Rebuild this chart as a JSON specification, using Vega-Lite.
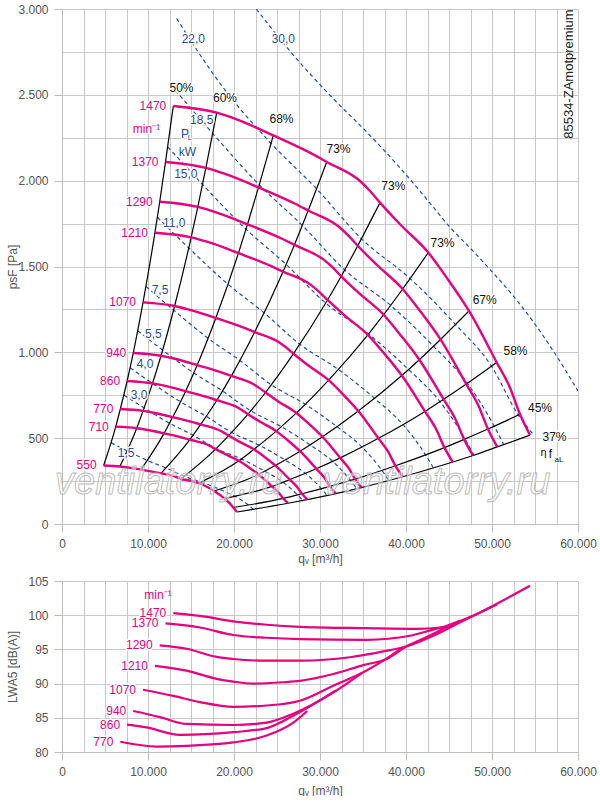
{
  "$schema": "https://vega.github.io/schema/vega-lite/v6.json",
  "background": "white",
  "padding": {"left": 6, "top": 3, "right": 0, "bottom": 0},
  "spacing": 11,
  "config": {
    "view": {"stroke": null},
    "font": "Liberation Sans",
    "axis": {
      "labelFont": "Liberation Sans", "titleFont": "Liberation Sans",
      "labelFontSize": 12, "titleFontSize": 12, "titleFontWeight": "normal",
      "labelColor": "#555555", "titleColor": "#555555",
      "gridColor": "#c8c8c8", "gridWidth": 1,
      "domainColor": "#bdbdbd", "tickColor": "#bdbdbd",
      "tickSize": 8, "labelPadding": 6,
      "labelFlush": false, "labelOverlap": false
    }
  },
  "datasets": {
    "fan": [
      {"n":1470,"i":0,"q":12942,"p":2435},{"n":1470,"i":1,"q":17989,"p":2396},{"n":1470,"i":2,"q":20314,"p":2357},{"n":1470,"i":3,"q":24570,"p":2264},{"n":1470,"i":4,"q":29222,"p":2153},{"n":1470,"i":5,"q":30779,"p":2109},{"n":1470,"i":6,"q":34651,"p":1998},{"n":1470,"i":7,"q":35814,"p":1940},{"n":1470,"i":8,"q":36977,"p":1872},{"n":1470,"i":9,"q":39303,"p":1746},{"n":1470,"i":10,"q":42594,"p":1581},{"n":1470,"i":11,"q":44733,"p":1435},{"n":1470,"i":12,"q":47326,"p":1241},{"n":1470,"i":13,"q":50546,"p":941},{"n":1470,"i":14,"q":52093,"p":794},{"n":1470,"i":15,"q":53256,"p":639},{"n":1470,"i":16,"q":54419,"p":518},
      {"n":1370,"i":0,"q":12036,"p":2109},{"n":1370,"i":1,"q":16730,"p":2075},{"n":1370,"i":2,"q":18892,"p":2041},{"n":1370,"i":3,"q":22850,"p":1961},{"n":1370,"i":4,"q":27176,"p":1864},{"n":1370,"i":5,"q":28624,"p":1826},{"n":1370,"i":6,"q":32225,"p":1730},{"n":1370,"i":7,"q":33307,"p":1680},{"n":1370,"i":8,"q":34389,"p":1621},{"n":1370,"i":9,"q":36552,"p":1512},{"n":1370,"i":10,"q":39612,"p":1369},{"n":1370,"i":11,"q":41602,"p":1243},{"n":1370,"i":12,"q":44013,"p":1075},{"n":1370,"i":13,"q":47008,"p":815},{"n":1370,"i":14,"q":48446,"p":688},{"n":1370,"i":15,"q":49528,"p":553},{"n":1370,"i":16,"q":50610,"p":449},
      {"n":1290,"i":0,"q":11363,"p":1877},{"n":1290,"i":1,"q":15794,"p":1847},{"n":1290,"i":2,"q":17836,"p":1817},{"n":1290,"i":3,"q":21572,"p":1746},{"n":1290,"i":4,"q":25657,"p":1660},{"n":1290,"i":5,"q":27024,"p":1626},{"n":1290,"i":6,"q":30424,"p":1540},{"n":1290,"i":7,"q":31445,"p":1496},{"n":1290,"i":8,"q":32466,"p":1443},{"n":1290,"i":9,"q":34508,"p":1346},{"n":1290,"i":10,"q":37398,"p":1219},{"n":1290,"i":11,"q":39276,"p":1106},{"n":1290,"i":12,"q":41552,"p":957},{"n":1290,"i":13,"q":44379,"p":726},{"n":1290,"i":14,"q":45738,"p":612},{"n":1290,"i":15,"q":46759,"p":493},{"n":1290,"i":16,"q":47780,"p":399},
      {"n":1210,"i":0,"q":10807,"p":1697},{"n":1210,"i":1,"q":15021,"p":1670},{"n":1210,"i":2,"q":16962,"p":1643},{"n":1210,"i":3,"q":20516,"p":1578},{"n":1210,"i":4,"q":24400,"p":1501},{"n":1210,"i":5,"q":25700,"p":1470},{"n":1210,"i":6,"q":28934,"p":1393},{"n":1210,"i":7,"q":29905,"p":1352},{"n":1210,"i":8,"q":30876,"p":1305},{"n":1210,"i":9,"q":32818,"p":1217},{"n":1210,"i":10,"q":35566,"p":1102},{"n":1210,"i":11,"q":37352,"p":1000},{"n":1210,"i":12,"q":39517,"p":865},{"n":1210,"i":13,"q":42206,"p":656},{"n":1210,"i":14,"q":43498,"p":553},{"n":1210,"i":15,"q":44469,"p":445},{"n":1210,"i":16,"q":45440,"p":361},
      {"n":1070,"i":0,"q":9422,"p":1291},{"n":1070,"i":1,"q":13096,"p":1270},{"n":1070,"i":2,"q":14789,"p":1249},{"n":1070,"i":3,"q":17887,"p":1200},{"n":1070,"i":4,"q":21274,"p":1141},{"n":1070,"i":5,"q":22407,"p":1118},{"n":1070,"i":6,"q":25226,"p":1059},{"n":1070,"i":7,"q":26073,"p":1028},{"n":1070,"i":8,"q":26919,"p":992},{"n":1070,"i":9,"q":28613,"p":925},{"n":1070,"i":10,"q":31008,"p":838},{"n":1070,"i":11,"q":32566,"p":761},{"n":1070,"i":12,"q":34453,"p":658},{"n":1070,"i":13,"q":36797,"p":499},{"n":1070,"i":14,"q":37924,"p":421},{"n":1070,"i":15,"q":38770,"p":339},{"n":1070,"i":16,"q":39617,"p":275},
      {"n":940,"i":0,"q":8283,"p":996},{"n":940,"i":1,"q":11513,"p":980},{"n":940,"i":2,"q":13001,"p":964},{"n":940,"i":3,"q":15725,"p":926},{"n":940,"i":4,"q":18702,"p":881},{"n":940,"i":5,"q":19699,"p":863},{"n":940,"i":6,"q":22177,"p":817},{"n":940,"i":7,"q":22921,"p":793},{"n":940,"i":8,"q":23665,"p":766},{"n":940,"i":9,"q":25154,"p":714},{"n":940,"i":10,"q":27260,"p":647},{"n":940,"i":11,"q":28629,"p":587},{"n":940,"i":12,"q":30289,"p":508},{"n":940,"i":13,"q":32349,"p":385},{"n":940,"i":14,"q":33340,"p":325},{"n":940,"i":15,"q":34084,"p":261},{"n":940,"i":16,"q":34828,"p":212},
      {"n":860,"i":0,"q":7571,"p":833},{"n":860,"i":1,"q":10524,"p":819},{"n":860,"i":2,"q":11884,"p":806},{"n":860,"i":3,"q":14373,"p":774},{"n":860,"i":4,"q":17095,"p":736},{"n":860,"i":5,"q":18006,"p":721},{"n":860,"i":6,"q":20271,"p":683},{"n":860,"i":7,"q":20951,"p":663},{"n":860,"i":8,"q":21632,"p":640},{"n":860,"i":9,"q":22992,"p":597},{"n":860,"i":10,"q":24917,"p":541},{"n":860,"i":11,"q":26169,"p":491},{"n":860,"i":12,"q":27686,"p":424},{"n":860,"i":13,"q":29569,"p":322},{"n":860,"i":14,"q":30474,"p":272},{"n":860,"i":15,"q":31155,"p":219},{"n":860,"i":16,"q":31835,"p":177},
      {"n":770,"i":0,"q":6782,"p":670},{"n":770,"i":1,"q":9426,"p":659},{"n":770,"i":2,"q":10645,"p":648},{"n":770,"i":3,"q":12875,"p":623},{"n":770,"i":4,"q":15312,"p":592},{"n":770,"i":5,"q":16128,"p":580},{"n":770,"i":6,"q":18157,"p":549},{"n":770,"i":7,"q":18767,"p":534},{"n":770,"i":8,"q":19376,"p":515},{"n":770,"i":9,"q":20595,"p":480},{"n":770,"i":10,"q":22319,"p":435},{"n":770,"i":11,"q":23440,"p":395},{"n":770,"i":12,"q":24799,"p":341},{"n":770,"i":13,"q":26486,"p":259},{"n":770,"i":14,"q":27297,"p":218},{"n":770,"i":15,"q":27906,"p":176},{"n":770,"i":16,"q":28516,"p":142},
      {"n":710,"i":0,"q":6251,"p":567},{"n":710,"i":1,"q":8689,"p":558},{"n":710,"i":2,"q":9812,"p":549},{"n":710,"i":3,"q":11867,"p":528},{"n":710,"i":4,"q":14114,"p":502},{"n":710,"i":5,"q":14866,"p":491},{"n":710,"i":6,"q":16736,"p":466},{"n":710,"i":7,"q":17298,"p":452},{"n":710,"i":8,"q":17860,"p":436},{"n":710,"i":9,"q":18983,"p":407},{"n":710,"i":10,"q":20573,"p":368},{"n":710,"i":11,"q":21606,"p":334},{"n":710,"i":12,"q":22858,"p":289},{"n":710,"i":13,"q":24414,"p":219},{"n":710,"i":14,"q":25161,"p":185},{"n":710,"i":15,"q":25723,"p":149},{"n":710,"i":16,"q":26284,"p":121},
      {"n":550,"i":0,"q":4840,"p":341},{"n":550,"i":1,"q":6728,"p":335},{"n":550,"i":2,"q":7597,"p":330},{"n":550,"i":3,"q":9189,"p":317},{"n":550,"i":4,"q":10929,"p":301},{"n":550,"i":5,"q":11511,"p":295},{"n":550,"i":6,"q":12959,"p":280},{"n":550,"i":7,"q":13394,"p":272},{"n":550,"i":8,"q":13829,"p":262},{"n":550,"i":9,"q":14699,"p":255},{"n":550,"i":10,"q":15930,"p":238},{"n":550,"i":11,"q":16730,"p":220},{"n":550,"i":12,"q":17700,"p":192},{"n":550,"i":13,"q":18904,"p":148},{"n":550,"i":14,"q":19483,"p":122},{"n":550,"i":15,"q":19918,"p":96},{"n":550,"i":16,"q":20353,"p":70}
    ],
    "pl": [
      {"P":1.5,"j":0,"q":5706,"p":473},{"P":1.5,"j":1,"q":7586,"p":426},{"P":1.5,"j":2,"q":9933,"p":370},{"P":1.5,"j":3,"q":12098,"p":326},{"P":1.5,"j":4,"q":14230,"p":277},{"P":1.5,"j":5,"q":16544,"p":238},{"P":1.5,"j":6,"q":18703,"p":194},{"P":1.5,"j":7,"q":20404,"p":153},{"P":1.5,"j":8,"q":21757,"p":107},{"P":1.5,"j":9,"q":22232,"p":86},
      {"P":3,"j":0,"q":7189,"p":751},{"P":3,"j":1,"q":9558,"p":676},{"P":3,"j":2,"q":12514,"p":587},{"P":3,"j":3,"q":15242,"p":517},{"P":3,"j":4,"q":17929,"p":440},{"P":3,"j":5,"q":20843,"p":379},{"P":3,"j":6,"q":23564,"p":308},{"P":3,"j":7,"q":25707,"p":243},{"P":3,"j":8,"q":27411,"p":169},{"P":3,"j":9,"q":28010,"p":137},
      {"P":4,"j":0,"q":7913,"p":910},{"P":4,"j":1,"q":10520,"p":819},{"P":4,"j":2,"q":13774,"p":712},{"P":4,"j":3,"q":16777,"p":627},{"P":4,"j":4,"q":19734,"p":533},{"P":4,"j":5,"q":22942,"p":459},{"P":4,"j":6,"q":25937,"p":373},{"P":4,"j":7,"q":28295,"p":295},{"P":4,"j":8,"q":30171,"p":205},{"P":4,"j":9,"q":30830,"p":166},
      {"P":5.5,"j":0,"q":8800,"p":1126},{"P":5.5,"j":1,"q":11698,"p":1013},{"P":5.5,"j":2,"q":15317,"p":880},{"P":5.5,"j":3,"q":18656,"p":775},{"P":5.5,"j":4,"q":21944,"p":659},{"P":5.5,"j":5,"q":25511,"p":567},{"P":5.5,"j":6,"q":28841,"p":461},{"P":5.5,"j":7,"q":31464,"p":365},{"P":5.5,"j":8,"q":33550,"p":254},{"P":5.5,"j":9,"q":34283,"p":206},
      {"P":7.5,"j":0,"q":9758,"p":1384},{"P":7.5,"j":1,"q":12972,"p":1246},{"P":7.5,"j":2,"q":16985,"p":1082},{"P":7.5,"j":3,"q":20687,"p":953},{"P":7.5,"j":4,"q":24333,"p":811},{"P":7.5,"j":5,"q":28289,"p":697},{"P":7.5,"j":6,"q":31981,"p":567},{"P":7.5,"j":7,"q":34890,"p":448},{"P":7.5,"j":8,"q":37204,"p":312},{"P":7.5,"j":9,"q":38016,"p":253},
      {"P":11,"j":0,"q":11087,"p":1787},{"P":11,"j":1,"q":14739,"p":1608},{"P":11,"j":2,"q":19298,"p":1397},{"P":11,"j":3,"q":23505,"p":1230},{"P":11,"j":4,"q":27647,"p":1047},{"P":11,"j":5,"q":32141,"p":900},{"P":11,"j":6,"q":36337,"p":732},{"P":11,"j":7,"q":39642,"p":579},{"P":11,"j":8,"q":42270,"p":403},{"P":11,"j":9,"q":43193,"p":326},
      {"P":15,"j":0,"q":12294,"p":2197},{"P":15,"j":1,"q":16344,"p":1978},{"P":15,"j":2,"q":21400,"p":1717},{"P":15,"j":3,"q":26064,"p":1512},{"P":15,"j":4,"q":30658,"p":1287},{"P":15,"j":5,"q":35642,"p":1107},{"P":15,"j":6,"q":40294,"p":900},{"P":15,"j":7,"q":43959,"p":712},{"P":15,"j":8,"q":46874,"p":495},{"P":15,"j":9,"q":47897,"p":401},
      {"P":18.5,"j":0,"q":13184,"p":2527},{"P":18.5,"j":1,"q":17528,"p":2275},{"P":18.5,"j":2,"q":22949,"p":1975},{"P":18.5,"j":3,"q":27952,"p":1739},{"P":18.5,"j":4,"q":32878,"p":1480},{"P":18.5,"j":5,"q":38223,"p":1273},{"P":18.5,"j":6,"q":43213,"p":1035},{"P":18.5,"j":7,"q":47142,"p":819},{"P":18.5,"j":8,"q":50268,"p":569},{"P":18.5,"j":9,"q":51366,"p":462},
      {"P":22,"j":0,"q":13330,"p":2945},{"P":22,"j":1,"q":18569,"p":2553},{"P":22,"j":2,"q":24313,"p":2217},{"P":22,"j":3,"q":29613,"p":1952},{"P":22,"j":4,"q":34832,"p":1661},{"P":22,"j":5,"q":40495,"p":1429},{"P":22,"j":6,"q":45781,"p":1161},{"P":22,"j":7,"q":49945,"p":919},{"P":22,"j":8,"q":53000,"p":640},{"P":22,"j":9,"q":54700,"p":528},
      {"P":30,"j":0,"q":22600,"p":3000},{"P":30,"j":1,"q":26500,"p":2755},{"P":30,"j":2,"q":31500,"p":2480},{"P":30,"j":3,"q":35500,"p":2280},{"P":30,"j":4,"q":39300,"p":2075},{"P":30,"j":5,"q":42450,"p":1890},{"P":30,"j":6,"q":45100,"p":1730},{"P":30,"j":7,"q":47800,"p":1590},{"P":30,"j":8,"q":50000,"p":1470},{"P":30,"j":9,"q":52450,"p":1330},{"P":30,"j":10,"q":54770,"p":1180},{"P":30,"j":11,"q":57100,"p":1010},{"P":30,"j":12,"q":60000,"p":775}
    ],
    "notes": [
      {"q":13895,"p":2540,"t":"50%","c":"e","fs":12},
      {"q":18954,"p":2481,"t":"60%","c":"e","fs":12},
      {"q":25523,"p":2359,"t":"68%","c":"e","fs":12},
      {"q":32151,"p":2184,"t":"73%","c":"e","fs":12},
      {"q":38523,"p":1969,"t":"73%","c":"e","fs":12},
      {"q":44245,"p":1637,"t":"73%","c":"e","fs":12},
      {"q":49151,"p":1303,"t":"67%","c":"e","fs":12},
      {"q":52733,"p":1008,"t":"58%","c":"e","fs":12},
      {"q":55582,"p":677,"t":"45%","c":"e","fs":12},
      {"q":57268,"p":509,"t":"37%","c":"e","fs":12},
      {"q":55989,"p":414,"t":"η","c":"e","fs":11},
      {"q":56803,"p":408,"t":"f","c":"e","fs":12},
      {"q":57791,"p":373,"t":"aL","c":"e","fs":8},
      {"q":15268,"p":2823,"t":"22,0","c":"p","fs":12},
      {"q":25733,"p":2823,"t":"30,0","c":"p","fs":12},
      {"q":16244,"p":2352,"t":"18,5","c":"p","fs":12},
      {"q":14302,"p":2270,"t":"P","c":"p","fs":12},
      {"q":14884,"p":2250,"t":"L","c":"p","fs":8},
      {"q":14593,"p":2169,"t":"kW","c":"p","fs":12},
      {"q":14396,"p":2041,"t":"15,0","c":"p","fs":12},
      {"q":13047,"p":1755,"t":"11,0","c":"p","fs":12},
      {"q":11395,"p":1361,"t":"7,5","c":"p","fs":12},
      {"q":10616,"p":1105,"t":"5,5","c":"p","fs":12},
      {"q":9651,"p":930,"t":"4,0","c":"p","fs":12},
      {"q":8953,"p":751,"t":"3,0","c":"p","fs":12},
      {"q":7465,"p":415,"t":"1,5","c":"p","fs":12},
      {"q":9826,"p":2303,"t":"min⁻¹","c":"s","fs":12}
    ],
    "tag": [{"q":58954,"p":2621,"t":"85534-ZAmotpremium"}],
    "wm": [
      {"q":-814,"p":175,"t":"ventilatorry.ru"},
      {"q":30349,"p":175,"t":"ventilatorry.ru"}
    ],
    "lw": [
      {"n":1470,"i":0,"q":12942,"L":100.3},{"n":1470,"i":1,"q":16047,"L":99.9},{"n":1470,"i":2,"q":19919,"L":99.1},{"n":1470,"i":3,"q":23803,"L":98.6},{"n":1470,"i":4,"q":27675,"L":98.3},{"n":1470,"i":5,"q":35431,"L":98.1},{"n":1470,"i":6,"q":41245,"L":98.0},{"n":1470,"i":7,"q":43954,"L":98.2},{"n":1470,"i":8,"q":45896,"L":99.0},{"n":1470,"i":9,"q":47442,"L":99.7},{"n":1470,"i":10,"q":50151,"L":101.4},{"n":1470,"i":11,"q":54419,"L":104.3},
      {"n":1370,"i":0,"q":12036,"L":98.8},{"n":1370,"i":1,"q":16047,"L":98.2},{"n":1370,"i":2,"q":19919,"L":97.1},{"n":1370,"i":3,"q":23803,"L":96.7},{"n":1370,"i":4,"q":27675,"L":96.5},{"n":1370,"i":5,"q":35431,"L":96.4},{"n":1370,"i":6,"q":40465,"L":97.0},{"n":1370,"i":7,"q":43174,"L":97.9},{"n":1370,"i":8,"q":45116,"L":98.5},{"n":1370,"i":9,"q":47058,"L":99.5},{"n":1370,"i":10,"q":50610,"L":101.6},
      {"n":1290,"i":0,"q":11363,"L":95.6},{"n":1290,"i":1,"q":14500,"L":95.1},{"n":1290,"i":2,"q":17989,"L":93.9},{"n":1290,"i":3,"q":19919,"L":93.6},{"n":1290,"i":4,"q":23803,"L":93.35},{"n":1290,"i":5,"q":27675,"L":93.35},{"n":1290,"i":6,"q":33489,"L":93.85},{"n":1290,"i":7,"q":37361,"L":94.7},{"n":1290,"i":8,"q":40082,"L":95.45},{"n":1290,"i":9,"q":43174,"L":97.0},{"n":1290,"i":10,"q":45116,"L":98.2},{"n":1290,"i":11,"q":47780,"L":99.9},
      {"n":1210,"i":0,"q":10807,"L":92.6},{"n":1210,"i":1,"q":14500,"L":91.9},{"n":1210,"i":2,"q":17989,"L":90.7},{"n":1210,"i":3,"q":19919,"L":90.3},{"n":1210,"i":4,"q":22244,"L":90.0},{"n":1210,"i":5,"q":25733,"L":90.2},{"n":1210,"i":6,"q":27675,"L":90.4},{"n":1210,"i":7,"q":31547,"L":91.4},{"n":1210,"i":8,"q":35035,"L":92.7},{"n":1210,"i":9,"q":37756,"L":93.6},{"n":1210,"i":10,"q":40082,"L":95.45},{"n":1210,"i":11,"q":42407,"L":96.8},{"n":1210,"i":12,"q":45440,"L":98.7},
      {"n":1070,"i":0,"q":9422,"L":89.1},{"n":1070,"i":1,"q":12942,"L":88.2},{"n":1070,"i":2,"q":16047,"L":87.3},{"n":1070,"i":3,"q":19919,"L":86.6},{"n":1070,"i":4,"q":23803,"L":86.8},{"n":1070,"i":5,"q":27675,"L":87.5},{"n":1070,"i":6,"q":31547,"L":89.7},{"n":1070,"i":7,"q":35035,"L":91.65},{"n":1070,"i":8,"q":37361,"L":93.35},{"n":1070,"i":9,"q":39617,"L":95.3},
      {"n":940,"i":0,"q":8283,"L":86.0},{"n":940,"i":1,"q":11395,"L":85.1},{"n":940,"i":2,"q":14500,"L":84.1},{"n":940,"i":3,"q":19919,"L":83.95},{"n":940,"i":4,"q":23803,"L":84.3},{"n":940,"i":5,"q":26896,"L":85.6},{"n":940,"i":6,"q":31547,"L":88.7},{"n":940,"i":7,"q":34828,"L":91.5},
      {"n":860,"i":0,"q":7571,"L":84.0},{"n":860,"i":1,"q":9849,"L":83.6},{"n":860,"i":2,"q":13721,"L":82.5},{"n":860,"i":3,"q":19919,"L":82.9},{"n":860,"i":4,"q":23803,"L":83.5},{"n":860,"i":5,"q":26896,"L":85.3},{"n":860,"i":6,"q":31835,"L":89.0},
      {"n":770,"i":0,"q":6782,"L":81.5},{"n":770,"i":1,"q":11012,"L":80.8},{"n":770,"i":2,"q":14500,"L":80.9},{"n":770,"i":3,"q":19919,"L":81.4},{"n":770,"i":4,"q":23803,"L":82.4},{"n":770,"i":5,"q":26896,"L":84.3},{"n":770,"i":6,"q":28516,"L":86.0}
    ],
    "lwnotes": [{"q":11163,"L":103.0,"t":"min⁻¹"}]
  },
  "vconcat": [
    {
      "width": 516,
      "height": 515,
      "encoding": {
        "x": {
          "field": "q", "type": "quantitative",
          "scale": {"domain": [0, 60000], "nice": false},
          "axis": {
            "title": "qᵥ [m³/h]", "titlePadding": 4,
            "values": [0,2500,5000,7500,10000,12500,15000,17500,20000,22500,25000,27500,30000,32500,35000,37500,40000,42500,45000,47500,50000,52500,55000,57500,60000],
            "labelExpr": "datum.value % 10000 === 0 ? replace(format(datum.value, ','), ',', '.') : ''",
            "tickOpacity": {"condition": {"test": "datum.value % 10000 === 0", "value": 1}, "value": 0}
          }
        },
        "y": {
          "field": "p", "type": "quantitative",
          "scale": {"domain": [0, 3000], "nice": false},
          "axis": {
            "title": "psF [Pa]", "titlePadding": -2,
            "values": [0,250,500,750,1000,1250,1500,1750,2000,2250,2500,2750,3000],
            "labelExpr": "datum.value % 500 === 0 ? replace(format(datum.value, ','), ',', '.') : ''",
            "tickOpacity": {"condition": {"test": "datum.value % 500 === 0", "value": 1}, "value": 0}
          }
        }
      },
      "layer": [
        {
          "data": {"name": "pl"},
          "mark": {"type": "line", "color": "#2350a6", "strokeWidth": 1.2, "strokeDash": [4, 3], "interpolate": "monotone", "clip": true},
          "encoding": {"detail": {"field": "P", "type": "nominal"}, "order": {"field": "j", "type": "quantitative"}}
        },
        {
          "data": {"name": "fan"},
          "transform": [{"filter": {"field": "i", "oneOf": [0, 1, 3, 5, 8, 10, 12, 13, 15, 16]}}],
          "mark": {"type": "line", "color": "#000000", "strokeWidth": 1.2, "interpolate": "monotone", "clip": true},
          "encoding": {"detail": {"field": "i", "type": "nominal"}, "order": {"field": "n", "type": "quantitative"}}
        },
        {
          "data": {"name": "fan"},
          "mark": {"type": "line", "color": "#e5007d", "strokeWidth": 2.4, "interpolate": "monotone", "clip": true},
          "encoding": {"detail": {"field": "n", "type": "nominal"}, "order": {"field": "i", "type": "quantitative"}}
        },
        {
          "data": {"name": "notes"},
          "mark": {"type": "text", "fill": "white", "stroke": "white", "strokeWidth": 3, "strokeJoin": "round"},
          "encoding": {"text": {"field": "t"}, "size": {"field": "fs", "type": "quantitative", "scale": null}}
        },
        {
          "data": {"name": "notes"},
          "mark": {"type": "text"},
          "encoding": {
            "text": {"field": "t"},
            "size": {"field": "fs", "type": "quantitative", "scale": null},
            "color": {"field": "c", "type": "nominal", "scale": {"domain": ["s", "e", "p"], "range": ["#e5007d", "#111111", "#2b4c9b"]}, "legend": null}
          }
        },
        {
          "data": {"name": "fan"},
          "transform": [{"filter": "datum.i === 0"}],
          "mark": {"type": "text", "align": "right", "dx": -7, "fontSize": 12, "fill": "white", "stroke": "white", "strokeWidth": 3, "strokeJoin": "round"},
          "encoding": {"text": {"field": "n", "type": "quantitative", "format": "d"}}
        },
        {
          "data": {"name": "fan"},
          "transform": [{"filter": "datum.i === 0"}],
          "mark": {"type": "text", "align": "right", "dx": -7, "fontSize": 12, "color": "#e5007d"},
          "encoding": {"text": {"field": "n", "type": "quantitative", "format": "d"}}
        },
        {
          "data": {"name": "tag"},
          "mark": {"type": "text", "angle": 270, "fontSize": 13, "color": "#222222"},
          "encoding": {"text": {"field": "t"}}
        },
        {
          "data": {"name": "wm"},
          "mark": {"type": "text", "align": "left", "baseline": "alphabetic", "fontSize": 38, "fontStyle": "italic", "fill": "white", "fillOpacity": 0.45, "stroke": "#bdbdbd", "strokeWidth": 1},
          "encoding": {"text": {"field": "t"}}
        }
      ]
    },
    {
      "width": 516,
      "height": 171,
      "encoding": {
        "x": {
          "field": "q", "type": "quantitative",
          "scale": {"domain": [0, 60000], "nice": false},
          "axis": {
            "title": "qᵥ [m³/h]", "titlePadding": 8,
            "values": [0,2500,5000,7500,10000,12500,15000,17500,20000,22500,25000,27500,30000,32500,35000,37500,40000,42500,45000,47500,50000,52500,55000,57500,60000],
            "labelExpr": "datum.value % 10000 === 0 ? replace(format(datum.value, ','), ',', '.') : ''",
            "tickOpacity": {"condition": {"test": "datum.value % 10000 === 0", "value": 1}, "value": 0}
          }
        },
        "y": {
          "field": "L", "type": "quantitative",
          "scale": {"domain": [80, 105], "nice": false, "zero": false},
          "axis": {"title": "LWA5 [dB(A)]", "titlePadding": 8, "values": [80, 85, 90, 95, 100, 105]}
        }
      },
      "layer": [
        {
          "data": {"name": "lw"},
          "mark": {"type": "line", "color": "#e5007d", "strokeWidth": 2.2, "interpolate": "monotone", "clip": true},
          "encoding": {"detail": {"field": "n", "type": "nominal"}, "order": {"field": "i", "type": "quantitative"}}
        },
        {
          "data": {"name": "lw"},
          "transform": [{"filter": "datum.i === 0"}],
          "mark": {"type": "text", "align": "right", "dx": -7, "fontSize": 12, "fill": "white", "stroke": "white", "strokeWidth": 3, "strokeJoin": "round"},
          "encoding": {"text": {"field": "n", "type": "quantitative", "format": "d"}}
        },
        {
          "data": {"name": "lw"},
          "transform": [{"filter": "datum.i === 0"}],
          "mark": {"type": "text", "align": "right", "dx": -7, "fontSize": 12, "color": "#e5007d"},
          "encoding": {"text": {"field": "n", "type": "quantitative", "format": "d"}}
        },
        {
          "data": {"name": "lwnotes"},
          "mark": {"type": "text", "fontSize": 12, "color": "#e5007d"},
          "encoding": {"text": {"field": "t"}}
        }
      ]
    }
  ]
}
